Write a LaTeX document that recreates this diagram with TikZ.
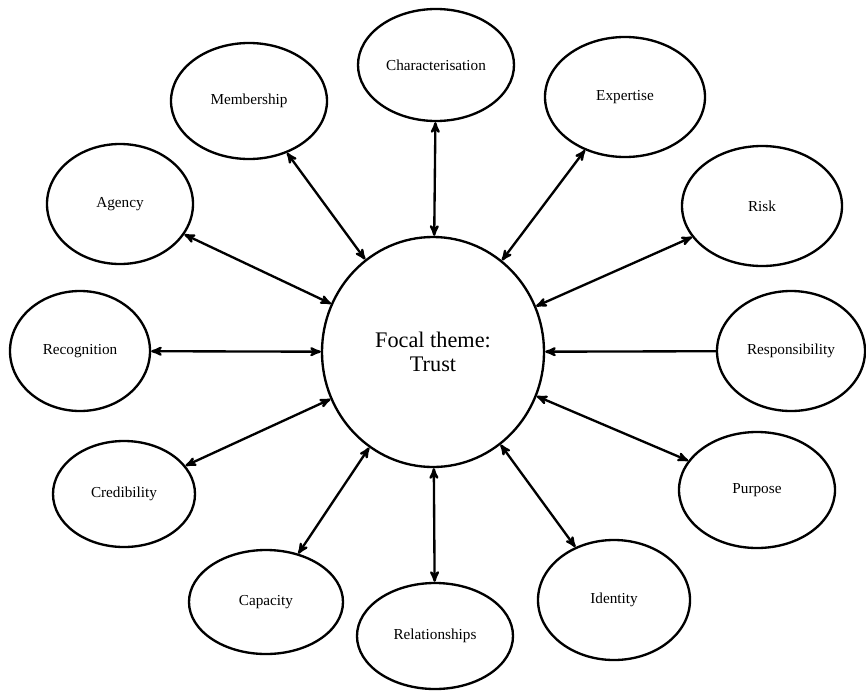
\documentclass[tikz,border=0pt]{standalone}
\usepackage{fontspec}
\setmainfont{Liberation Serif}
\usetikzlibrary{arrows,shapes.geometric}

\begin{document}
\begin{tikzpicture}[x=0.03cm,y=-0.03cm,>=stealth',semithick]
	  \tikzstyle{every node}=[ellipse,draw=black,line width=2pt,inner sep=0pt,
	                          fill=white,text=black,font=\fontsize{13}{15}\selectfont]
	  \tikzstyle{link}=[line width=2pt,shorten >=0pt,shorten <=0pt]

	  \useasboundingbox (0,0) rectangle (866,691);

	  \node[minimum width=6.66cm,minimum height=6.9cm,align=center,
	        font=\fontsize{19}{20}\selectfont] (trust) at (433,352) {Focal theme:\\Trust};

	  \node[minimum width=4.68cm,minimum height=3.36cm] (char) at (436,65)  {Characterisation};
	  \node[minimum width=4.68cm,minimum height=3.48cm] (memb) at (249,101) {Membership};
	  \node[minimum width=4.8cm, minimum height=3.6cm]  (expe) at (625,97)  {Expertise};
	  \node[minimum width=4.38cm,minimum height=3.6cm]  (agen) at (120,204) {Agency};
	  \node[minimum width=4.8cm, minimum height=3.6cm]  (risk) at (762,206) {Risk};
	  \node[minimum width=4.2cm, minimum height=3.6cm]  (reco) at (80,351)  {Recognition};
	  \node[minimum width=4.44cm,minimum height=3.6cm]  (resp) at (791,351) {Responsibility};
	  \node[minimum width=4.26cm,minimum height=3.18cm] (cred) at (124,494) {Credibility};
	  \node[minimum width=4.68cm,minimum height=3.48cm] (purp) at (757,490) {Purpose};
	  \node[minimum width=4.62cm,minimum height=3.12cm] (capa) at (266,602) {Capacity};
	  \node[minimum width=4.68cm,minimum height=3.18cm] (rela) at (435,636) {Relationships};
	  \node[minimum width=4.56cm,minimum height=3.6cm]  (iden) at (614,600) {Identity};

	  \path[link,<->] (trust) edge (char)
	  edge (memb) edge (expe) edge (agen) edge (risk) edge (reco)
	  edge (cred) edge (purp) edge (capa) edge (rela) edge (iden);
	  \path[link,->] (resp) edge (trust);
	\end{tikzpicture}
\end{document}
